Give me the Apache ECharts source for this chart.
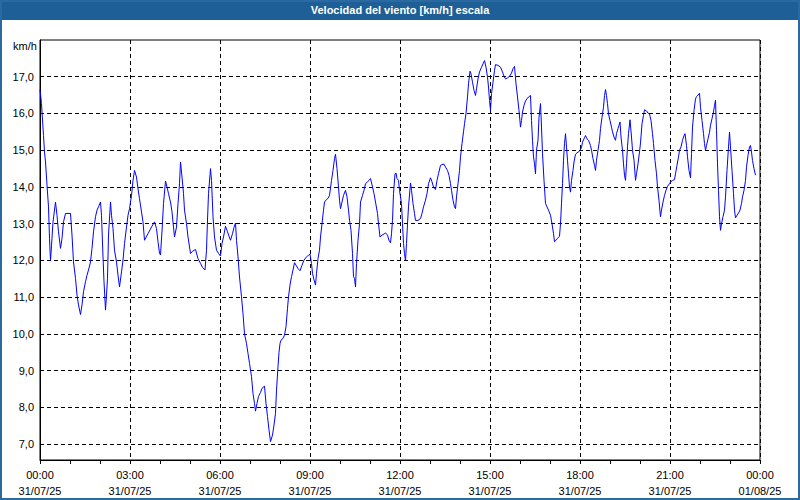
<!DOCTYPE html>
<html>
<head>
<meta charset="utf-8">
<script src="https://cdn.jsdelivr.net/npm/echarts@6/dist/echarts.min.js"></script>
<style>
html,body{margin:0;padding:0;background:#fff;}
#c{width:800px;height:500px;}
</style>
</head>
<body>
<div id="c"></div>
<script>
// minutes since 00:00 31/07/25
const times = [0,3,4,7,9,11,14,17,19,21,23,26,31,34,37,41,44,47,51,61,64,67,71,74,77,81,84,87,91,94,97,101,104,107,111,114,117,121,123,126,128,131,133,135,137,141,143,146,149,153,156,159,163,166,169,173,176,179,183,186,189,193,196,199,203,206,209,216,223,229,233,236,239,241,244,247,251,254,257,261,264,267,269,273,276,279,281,284,287,289,293,296,301,305,311,316,321,325,330,333,335,337,341,343,346,349,353,357,361,364,367,371,375,378,381,385,388,391,393,396,399,403,406,409,413,416,419,423,426,429,431,434,437,441,444,449,452,455,458,461,465,468,471,473,476,478,480,482,486,489,492,495,497,500,503,506,509,513,516,520,524,528,533,537,540,543,545,548,551,553,556,559,561,564,567,569,573,576,579,583,586,589,591,594,597,599,601,604,607,611,614,617,619,622,625,627,629,631,633,636,639,641,645,648,651,655,658,661,665,668,671,675,677,680,684,688,691,695,698,701,703,705,707,710,712,714,717,719,723,725,727,729,731,733,735,737,741,743,746,749,751,756,761,764,767,771,774,777,781,784,787,791,794,797,801,804,808,811,815,818,821,823,826,829,831,833,836,839,841,844,847,849,852,855,857,860,862,865,868,871,873,876,879,883,886,889,892,895,897,899,901,903,906,909,911,916,921,925,928,931,935,939,943,946,949,952,955,958,961,963,965,968,971,974,977,981,983,985,987,989,991,993,996,998,1001,1003,1005,1008,1011,1014,1017,1021,1024,1027,1029,1032,1035,1039,1041,1043,1045,1047,1049,1051,1053,1055,1057,1059,1061,1063,1066,1068,1071,1074,1077,1080,1083,1085,1089,1091,1094,1097,1101,1103,1106,1109,1111,1113,1116,1119,1121,1124,1127,1129,1131,1133,1135,1137,1140,1143,1145,1148,1151,1153,1156,1158,1160,1162,1165,1167,1169,1171,1173,1175,1177,1180,1183,1185,1188,1191,1193,1196,1199,1201,1204,1207,1209,1213,1216,1219,1222,1225,1227,1230,1233,1235,1238,1240,1241,1243,1246,1249,1252,1255,1259,1262,1265,1269,1271,1274,1277,1279,1282,1285,1287,1290,1293,1295,1298,1301,1303,1305,1308,1311,1313,1316,1319,1321,1324,1327,1329,1331,1333,1336,1339,1341,1344,1347,1349,1351,1353,1355,1357,1359,1361,1363,1366,1369,1371,1374,1377,1379,1381,1384,1387,1389,1391,1394,1397,1400,1403,1405,1408,1411,1413,1416,1419,1421,1423,1425,1428,1431];
// wind speed km/h
const speeds = [16.65,16.27,16.04,15.4,14.95,14.68,14.05,13.46,12.6,12.0,12.4,13.05,13.59,13.23,12.78,12.33,12.6,13.05,13.28,13.28,12.69,11.96,11.51,11.06,10.79,10.53,10.79,11.15,11.42,11.6,11.74,11.96,12.33,12.78,13.19,13.37,13.46,13.59,13.23,12.1,11.42,10.65,11.06,11.51,12.69,13.59,13.23,12.87,12.28,11.96,11.6,11.28,11.69,12.01,12.46,12.91,13.23,13.41,13.77,14.18,14.45,14.27,13.95,13.68,13.32,13.05,12.55,12.73,12.91,13.05,12.87,12.51,12.2,12.15,12.8,13.55,14.16,14.0,13.82,13.59,13.32,12.91,12.64,12.91,13.55,14.09,14.68,14.27,13.82,13.37,13.0,12.64,12.19,12.25,12.3,12.05,11.92,11.81,11.74,12.28,13.1,13.82,14.5,14.18,13.19,12.64,12.28,12.19,12.12,12.46,12.64,12.93,12.78,12.66,12.55,12.73,12.9,13.02,12.55,12.1,11.55,11.01,10.56,10.0,9.74,9.47,9.2,8.84,8.38,8.11,7.9,8.11,8.3,8.41,8.52,8.58,8.11,7.75,7.39,7.07,7.25,7.52,7.84,8.47,9.11,9.5,9.74,9.83,9.88,9.97,10.2,10.7,11.01,11.33,11.56,11.74,11.94,11.85,11.78,11.72,11.87,12.01,12.1,12.14,12.17,11.92,11.65,11.47,11.33,11.65,12.05,12.28,12.64,13.0,13.37,13.59,13.66,13.69,13.77,14.18,14.45,14.77,14.89,14.5,14.0,13.64,13.41,13.59,13.77,13.91,13.73,13.37,13.1,12.82,12.19,11.56,11.51,11.28,11.92,12.55,13.0,13.59,13.77,13.91,14.09,14.14,14.18,14.23,14.0,13.82,13.59,13.28,13.0,12.64,12.69,12.72,12.75,12.69,12.55,12.48,12.73,13.09,13.82,14.36,14.38,14.23,14.18,13.91,13.55,13.0,12.46,12.19,11.99,12.46,13.0,13.46,14.11,13.91,13.55,13.28,13.09,13.09,13.14,13.28,13.46,13.64,13.82,14.09,14.25,14.14,14.0,13.93,14.18,14.36,14.59,14.61,14.62,14.54,14.45,14.32,14.09,13.91,13.64,13.46,13.41,13.73,14.09,14.45,14.82,15.18,15.5,15.72,16.0,16.45,16.81,17.15,17.08,16.85,16.63,16.49,16.67,16.94,17.13,17.26,17.35,17.44,17.26,16.99,16.72,16.36,16.08,16.54,16.85,17.17,17.33,17.31,17.26,17.13,17.01,16.94,16.97,17.01,17.1,17.22,17.28,16.81,16.45,16.08,15.63,15.81,16.04,16.22,16.34,16.4,16.45,16.49,15.81,15.27,14.82,14.63,14.36,15.0,15.27,15.9,16.27,15.63,14.91,14.18,13.55,13.46,13.37,13.23,13.0,12.73,12.51,12.55,12.6,12.66,13.0,13.55,14.09,14.73,15.18,15.45,15.09,14.73,14.36,14.0,13.86,14.18,14.45,14.68,14.89,14.93,14.95,15.0,15.07,15.22,15.34,15.4,15.31,15.27,15.13,15.0,14.77,14.59,14.45,14.73,15.0,15.27,15.59,15.9,16.17,16.49,16.65,16.49,16.27,15.99,15.81,15.63,15.5,15.36,15.27,15.45,15.59,15.68,15.77,15.36,15.0,14.63,14.32,14.18,14.63,15.09,15.45,15.83,15.36,15.0,14.73,14.18,14.36,14.63,14.95,15.2,15.72,15.95,16.1,16.07,16.01,15.99,15.81,15.45,15.18,14.72,14.36,14.0,13.64,13.32,13.19,13.37,13.59,13.77,13.91,14.02,14.09,14.15,14.18,14.2,14.36,14.59,14.82,15.0,15.09,15.27,15.36,15.45,15.13,14.82,14.45,14.25,14.91,15.63,16.08,16.4,16.46,16.5,16.55,16.17,15.81,15.45,15.18,15.0,15.13,15.31,15.49,15.68,15.86,16.04,16.22,16.36,15.54,14.63,13.91,13.19,12.82,13.0,13.19,13.37,13.73,14.45,15.09,15.49,15.09,14.45,13.82,13.37,13.16,13.23,13.29,13.37,13.55,13.73,13.91,14.18,14.54,14.86,15.09,15.13,14.95,14.72,14.5,14.32];
const yTicks = [7,8,9,10,11,12,13,14,15,16,17];
const xTickTimes = ['00:00','03:00','06:00','09:00','12:00','15:00','18:00','21:00','00:00'];
const xTickDates = ['31/07/25','31/07/25','31/07/25','31/07/25','31/07/25','31/07/25','31/07/25','31/07/25','01/08/25'];
const titleText = 'Velocidad del viento [km/h] escala';
const unitText = 'km/h';

const data = times.map((t, i) => [t, speeds[i]]);
const FONT = 'Liberation Sans';

const chart = echarts.init(document.getElementById('c'), null, {renderer: 'svg'});
chart.setOption({
  animation: false,
  backgroundColor: '#ffffff',
  title: {
    text: titleText,
    left: 'center',
    top: 3,
    padding: 0,
    textStyle: {color: '#ffffff', fontSize: 11, fontWeight: 'bold', fontFamily: FONT, lineHeight: 14}
  },
  graphic: [
    {type: 'rect', z: -10, shape: {x: 0, y: 0, width: 800, height: 20}, style: {fill: '#1f5f97'}},
    {type: 'rect', z: -10, shape: {x: 1, y: 1, width: 798, height: 498}, style: {fill: 'none', stroke: '#2b6aa0', lineWidth: 2}},
    {type: 'text', left: 13, top: 40, style: {text: unitText, fill: '#000', font: '11px "Liberation Sans"'}}
  ],
  grid: {left: 40, right: 40, top: 40, bottom: 40, show: true, borderColor: '#000', borderWidth: 1, backgroundColor: 'transparent'},
  xAxis: {
    type: 'value',
    min: 0,
    max: 1440,
    interval: 180,
    axisLine: {show: true, lineStyle: {color: '#000', width: 1}},
    axisTick: {show: true, length: 4, lineStyle: {color: '#000'}},
    minorTick: {show: true, splitNumber: 3, length: 4, lineStyle: {color: '#000'}},
    splitLine: {show: true, lineStyle: {color: '#000', type: [4, 3], width: 1}},
    axisLabel: {
      margin: 7,
      color: '#000',
      fontSize: 11,
      fontFamily: FONT,
      lineHeight: 16,
      formatter: function (v) {
        const i = Math.round(v / 180);
        return xTickTimes[i] + '\n' + xTickDates[i];
      }
    }
  },
  yAxis: {
    type: 'value',
    min: 6.57,
    max: 18,
    axisLine: {show: true, lineStyle: {color: '#000', width: 1}},
    axisTick: {show: false, customValues: yTicks},
    splitLine: {show: true, lineStyle: {color: '#000', type: [4, 3], width: 1}},
    axisLabel: {
      customValues: yTicks,
      margin: 6,
      color: '#000',
      fontSize: 11,
      fontFamily: FONT,
      formatter: function (v) { return v.toFixed(1).replace('.', ','); }
    }
  },
  series: [{
    type: 'line',
    data: data,
    showSymbol: false,
    symbol: 'none',
    lineStyle: {color: '#0000ff', width: 1},
    silent: true
  }]
});
</script>
</body>
</html>
